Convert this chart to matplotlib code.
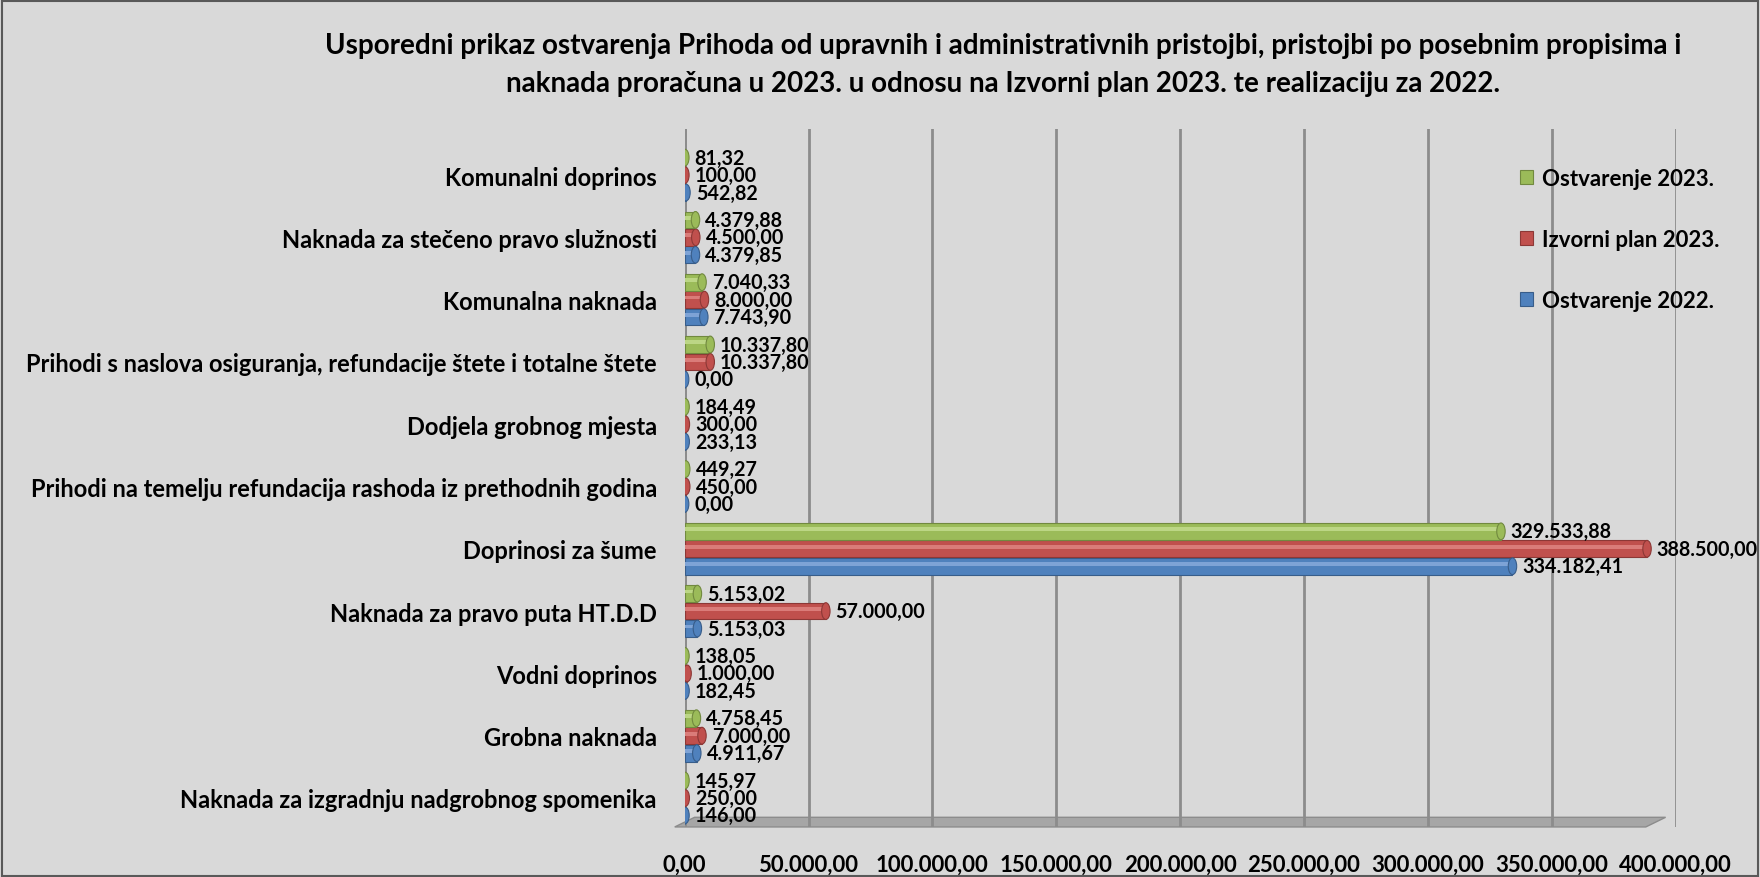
import matplotlib

matplotlib.use("Agg")

import matplotlib.pyplot as plt
import numpy as np
from matplotlib.patches import Ellipse, Polygon, Rectangle

categories = [
    "Naknada za izgradnju nadgrobnog spomenika",
    "Grobna naknada",
    "Vodni doprinos",
    "Naknada za pravo puta HT.D.D",
    "Doprinosi za šume",
    "Prihodi na temelju refundacija rashoda iz prethodnih godina",
    "Dodjela grobnog mjesta",
    "Prihodi s naslova osiguranja, refundacije štete i totalne štete",
    "Komunalna naknada",
    "Naknada za stečeno pravo služnosti",
    "Komunalni doprinos",
]
ostvarenje_2022 = [146.00, 4911.67, 182.45, 5153.03, 334182.41, 0.00, 233.13, 0.00, 7743.90, 4379.85, 542.82]
plan_2023 = [250.00, 7000.00, 1000.00, 57000.00, 388500.00, 450.00, 300.00, 10337.80, 8000.00, 4500.00, 100.00]
ostvarenje_2023 = [145.97, 4758.45, 138.05, 5153.02, 329533.88, 449.27, 184.49, 10337.80, 7040.33, 4379.88, 81.32]
x_ticks = [0, 50000, 100000, 150000, 200000, 250000, 300000, 350000, 400000]

series = [
    ("Ostvarenje 2022.", ostvarenje_2022, "#4f81bd", "#385d8a", "#7ea3d6"),
    ("Izvorni plan 2023.", plan_2023, "#c0504d", "#8c3836", "#da7c79"),
    ("Ostvarenje 2023.", ostvarenje_2023, "#9bbb59", "#71893f", "#bcd685"),
]


def fmt(v):
    s = f"{v:,.2f}"
    return s.replace(",", "X").replace(".", ",").replace("X", ".")


plt.rcParams["font.family"] = ["Lato", "DejaVu Sans"]
plt.rcParams["font.weight"] = "bold"

fig = plt.figure(figsize=(17.6, 8.78), dpi=100, facecolor="#d9d9d9")
fig.patches.append(Rectangle((0.001, 0.001), 0.998, 0.997, transform=fig.transFigure,
                             fill=False, edgecolor="#595959", linewidth=1.5))

ax = fig.add_axes([0.389, 0.057, 0.563, 0.795])
ax.set_facecolor("none")

y = np.arange(len(categories))
h = 0.28
cap_w = 3400
handles = []
for i, (name, vals, color, edge, light) in enumerate(series):
    offs = (i - 1) * h
    b = ax.barh(y + offs, vals, height=h * 0.96, color=color, edgecolor=edge,
                linewidth=0.8, label=name, zorder=3)
    handles.append(b)
    # highlight stripe for a cylinder look
    ax.barh(y + offs + h * 0.12, vals, height=h * 0.22, color=light, linewidth=0, zorder=3.1)
    for yy, v in zip(y + offs, vals):
        ax.add_patch(Ellipse((v, yy), cap_w, h * 0.96, facecolor=color, edgecolor=edge,
                             linewidth=0.8, zorder=3.2))
        ax.annotate(fmt(v), (v + cap_w / 2, yy), xytext=(4, 0), textcoords="offset points",
                    va="center", ha="left", fontsize=14.2, fontweight="bold", zorder=4)

ax.set_xlim(0, 400000)
ax.set_ylim(-0.465, 10.74)
ax.set_xticks(x_ticks)
ax.set_xticklabels([fmt(t) for t in x_ticks], fontsize=16, fontweight="bold")
ax.set_yticks(y)
ax.set_yticklabels(categories, fontsize=17, fontweight="bold")
ax.tick_params(length=0, pad=20, axis="y")
ax.tick_params(length=0, pad=19, axis="x")
for s in ax.spines.values():
    s.set_visible(False)
ax.grid(axis="x", color="#8c8c8c", linewidth=2, zorder=0)
ax.axvline(0, color="#8c8c8c", linewidth=2, zorder=1)

# floor strip under the bars
ax.add_patch(Polygon([(-4000, -0.465), (388000, -0.465), (396000, -0.31), (4000, -0.31)],
                     closed=True, transform=ax.transData, facecolor="#a6a6a6",
                     edgecolor="#8c8c8c", clip_on=False, zorder=1))

leg = fig.legend(handles[::-1], [s[0] for s in series][::-1], loc="upper left",
                 bbox_to_anchor=(0.852, 0.83), frameon=False, fontsize=16,
                 handlelength=0.6, handleheight=0.6, handletextpad=0.4, labelspacing=1.8)
for t in leg.get_texts():
    t.set_fontweight("bold")

fig.text(0.57, 0.926,
         "Usporedni prikaz ostvarenja Prihoda od upravnih i administrativnih pristojbi, pristojbi po posebnim propisima i\n"
         "naknada proračuna u 2023. u odnosu na Izvorni plan 2023. te realizaciju za 2022.",
         ha="center", va="center", fontsize=20, fontweight="bold", linespacing=1.55)

fig.savefig("out.png", dpi=100, facecolor=fig.get_facecolor())
